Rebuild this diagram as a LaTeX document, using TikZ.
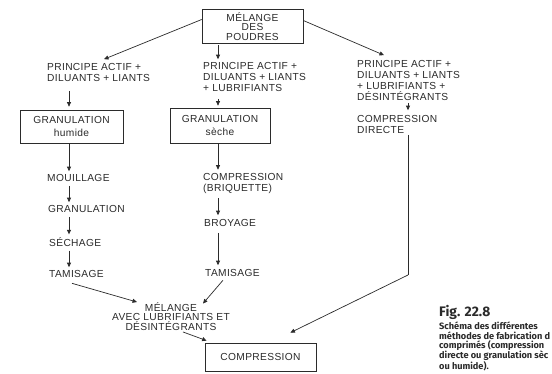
\documentclass[tikz,border=0pt]{standalone}
\usepackage{fontspec}
\setmainfont{Liberation Sans}[LetterSpace=3.5]
\newfontfamily\capfont{Fira Sans}
\usetikzlibrary{arrows.meta,calc}
\definecolor{ink}{HTML}{2B2B2B}
\tikzset{
  lbl/.style={font=\fontsize{10.2}{11}\selectfont, inner sep=0pt, align=left, text=ink, anchor=west},
  boxn/.style={draw=ink, line width=0.7pt, align=center, inner sep=0pt, text=ink, font=\fontsize{10.2}{11}\selectfont},
  arr/.style={draw=ink, line width=0.7pt, -{Triangle[length=4.5pt,width=4pt]}},
  ln/.style={draw=ink, line width=0.7pt}
}
\begin{document}
\begin{tikzpicture}[x=1pt,y=-1pt]
\useasboundingbox (0,0) rectangle (552,373);
\fill[white] (0,0) rectangle (552,373);
\coordinate (cL) at (69,0);
\coordinate (cM) at (218,0);
\coordinate (cR) at (408,0);

% top
\node[boxn, minimum width=101pt, minimum height=34pt, font=\fontsize{10.2}{9.2}\selectfont] (top) at (252.5,26.5) {MÉLANGE\\DES\\POUDRES};

% left column
\node[lbl] (pa1) at (47,72.5) {PRINCIPE ACTIF +\\DILUANTS + LIANTS};
\node[boxn, minimum width=103pt, minimum height=33pt] (gh) at (71.5,126.5) {GRANULATION\\[2pt]humide};
\node[lbl] (mou) at (47,178) {MOUILLAGE};
\node[lbl] (gran) at (48,209) {GRANULATION};
\node[lbl] (sech) at (49,242) {SÉCHAGE};
\node[lbl] (tam1) at (49,274) {TAMISAGE};

% middle column
\node[lbl] (pa2) at (203,77) {PRINCIPE ACTIF +\\DILUANTS + LIANTS\\+ LUBRIFIANTS};
\node[boxn, minimum width=100pt, minimum height=35pt] (gs) at (220,125.5) {GRANULATION\\[2pt]sèche};
\node[lbl] (comp) at (203,183) {COMPRESSION\\(BRIQUETTE)};
\node[lbl] (broy) at (204,223) {BROYAGE};
\node[lbl] (tam2) at (205,273) {TAMISAGE};

% right column
\node[lbl] (pa3) at (357,80.5) {PRINCIPE ACTIF +\\DILUANTS + LIANTS\\+ LUBRIFIANTS +\\DÉSINTÉGRANTS};
\node[lbl] (cd) at (357,124.5) {COMPRESSION\\DIRECTE};
\coordinate (bend) at (408,275);

% bottom
\node[lbl, align=center, anchor=center, font=\fontsize{10.2}{9.8}\selectfont] (mel) at (171,316.5) {MÉLANGE\\AVEC LUBRIFIANTS ET\\DÉSINTÉGRANTS};
\node[boxn, minimum width=111pt, minimum height=28pt] (cmp) at (260.5,357) {COMPRESSION};

% caption
\node[anchor=west, inner sep=0pt, text=ink, font=\capfont\bfseries\fontsize{13.8}{13}\selectfont] (fig) at (439,312) {Fig. 22.8};
\node[anchor=north west, inner sep=0pt, align=left, text=ink, font=\capfont\bfseries\fontsize{9.2}{9.8}\selectfont] (cap) at (439,321.5) {Schéma des différentes\\méthodes de fabrication d\\comprimés (compression\\directe ou granulation sèc\\ou humide).};

% connectors
\draw[arr] ([yshift=7pt]top.west) -- ($(pa1.north west)+(57,-4)$);
\draw[arr, shorten <=1.5pt, shorten >=3pt] (top.south -| cM) -- (pa2.north -| cM);
\draw[arr] ([yshift=6pt]top.east) -- ($(pa3.north west)+(27,-5)$);

\draw[arr, shorten <=9pt, shorten >=3pt] (pa1.south -| cL) -- (gh.north -| cL);
\draw[arr, shorten >=3pt] (gh.south -| cL) -- (mou.north -| cL);
\draw[arr, shorten <=4pt, shorten >=3pt] (mou.south -| cL) -- (gran.north -| cL);
\draw[arr, shorten <=4pt, shorten >=3pt] (gran.south -| cL) -- (sech.north -| cL);
\draw[arr, shorten <=4pt, shorten >=3pt] (sech.south -| cL) -- (tam1.north -| cL);

\draw[arr, shorten <=7pt, shorten >=2pt] (pa2.south -| cM) -- (gs.north -| cM);
\draw[arr, shorten >=3pt] (gs.south -| cM) -- (comp.north -| cM);
\draw[arr, shorten <=5pt, shorten >=4pt] (comp.south -| cM) -- (broy.north -| cM);
\draw[arr, shorten <=6pt, shorten >=4pt] (broy.south -| cM) -- (tam2.north -| cM);

\draw[arr, shorten <=2pt, shorten >=5pt] (pa3.south -| cR) -- (cd.north -| cR);
\draw[ln] ($(cd.south -| cR)+(0,1)$) -- (bend);
\draw[arr] (bend) -- ($(cmp.north east)+(-26,-10)$);

\draw[arr] ($(tam1.south west)+(23,5.5)$) -- ($(mel.north)+(-34,0)$);
\draw[arr] ($(tam2.south)+(-9.5,3.5)$) -- ($(mel.north)+(32,1.5)$);
\draw[arr] ($(mel.south)+(12,1)$) -- ($(cmp.north west)+(2,-2)$);
\end{tikzpicture}
\end{document}
